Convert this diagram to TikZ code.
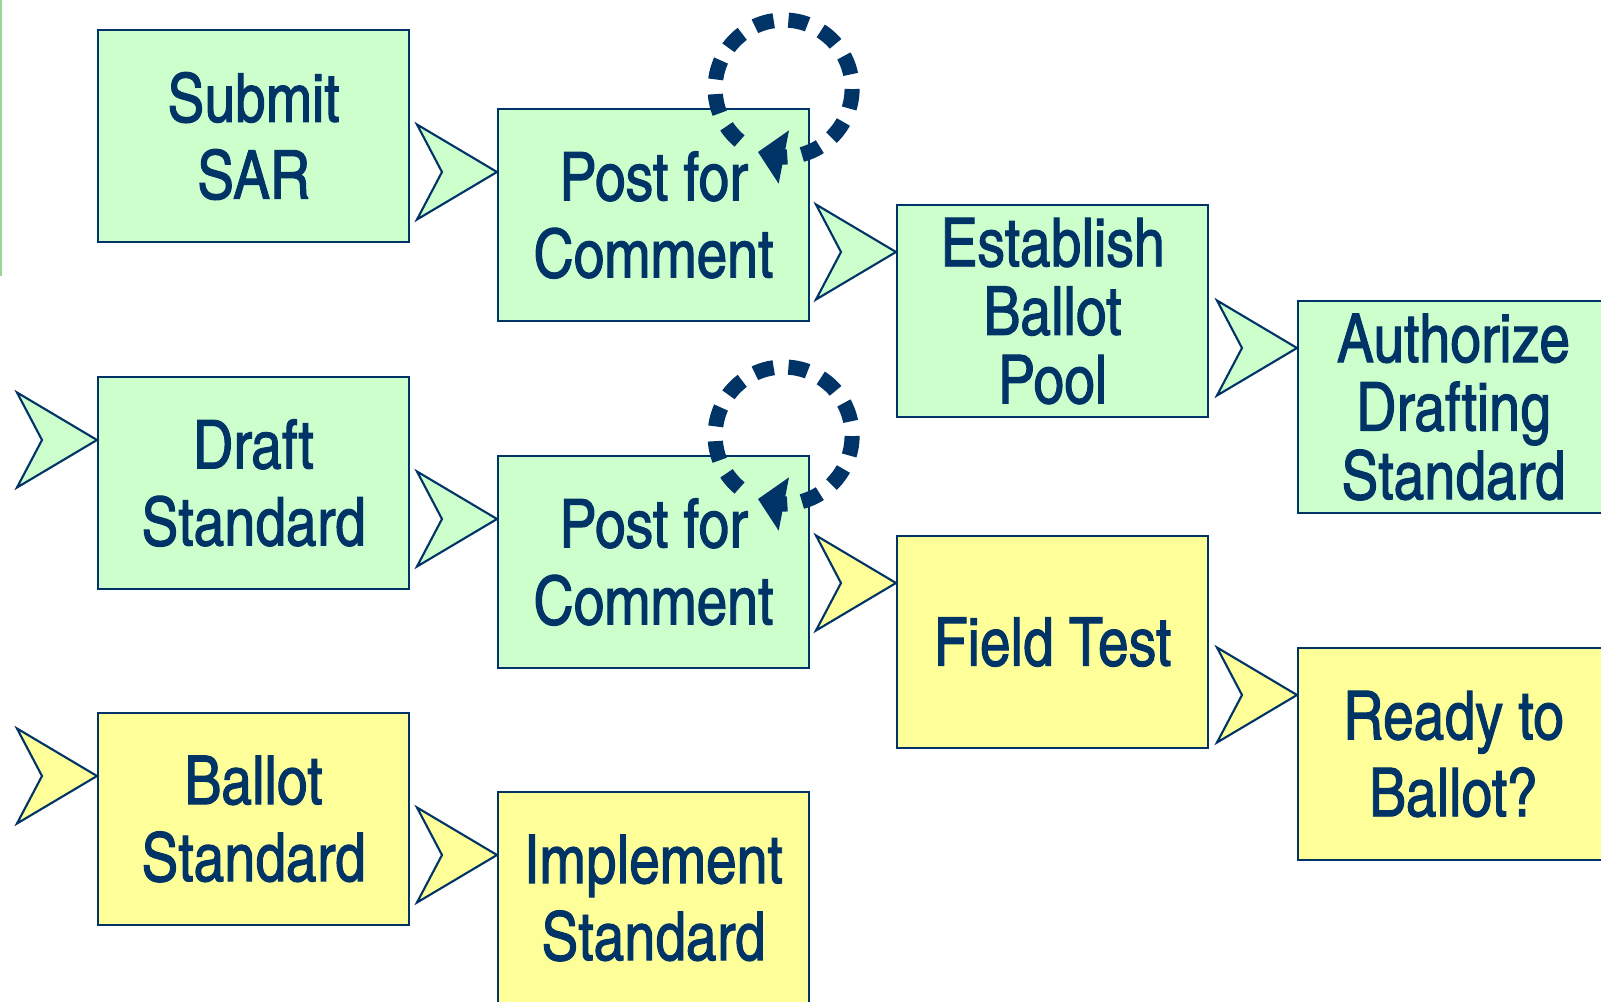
\documentclass[tikz,border=0pt]{standalone}
\usepackage{fontspec}
\setmainfont{texgyreheroscn}[Extension=.otf, UprightFont=*-regular, BoldFont=*-bold, ItalicFont=*-italic, BoldItalicFont=*-bolditalic, FakeBold=1.4]
\usetikzlibrary{arrows.meta,bending}

\definecolor{navy}{RGB}{0,51,102}
\definecolor{mint}{RGB}{204,255,204}
\definecolor{butter}{RGB}{255,255,153}
\definecolor{edgegreen}{RGB}{153,214,153}

\tikzset{
  box/.style={draw=navy, line width=0.6pt, text=navy, anchor=north west,
    minimum width=3.11cm, minimum height=2.12cm, inner sep=0pt, align=center,
    font=\fontsize{19.2}{21.9}\selectfont},
  three/.style={font=\fontsize{19.2}{19.5}\selectfont},
  chev/.style={draw=navy, line width=0.6pt, line join=miter},
  recycle/.style={navy, line width=4.3pt, dash pattern=on 5.6pt off 4.2pt,
    -{Triangle[length=7.5pt, width=15pt, flex]}},
}

\begin{document}
\begin{tikzpicture}
\useasboundingbox (0,0) rectangle (16.01,-10.02);

\draw[edgegreen, line width=0.5pt] (0.01,0) -- (0.01,-2.76);

% top row
\node[box, fill=mint] (submit) at (0.97,-0.29) {Submit\\SAR};
\node[box, fill=mint] (post1) at (4.97,-1.08) {Post for\\Comment};
\node[box, three, fill=mint] (pool) at (8.96,-2.04) {Establish\\Ballot\\Pool};
\node[box, three, fill=mint] (authorize) at (12.97,-3.00) {Authorize\\Drafting\\Standard};

% middle row
\node[box, fill=mint] (draft) at (0.97,-3.76) {Draft\\Standard};
\node[box, fill=mint] (post2) at (4.97,-4.55) {Post for\\Comment};
\node[box, fill=butter] (field) at (8.96,-5.35) {Field Test};
\node[box, fill=butter] (ready) at (12.97,-6.47) {Ready to\\Ballot?};

% bottom row
\node[box, fill=butter] (ballot) at (0.97,-7.12) {Ballot\\Standard};
\node[box, fill=butter] (implement) at (4.97,-7.91) {Implement\\Standard};

% chevrons into each step
\draw[chev, fill=mint] ([yshift=-0.64cm]post1.north west) -- ++(-0.8,0.475) -- ++(0.25,-0.475) -- ++(-0.25,-0.475) -- cycle;
\draw[chev, fill=mint] ([yshift=-0.48cm]pool.north west) -- ++(-0.8,0.475) -- ++(0.25,-0.475) -- ++(-0.25,-0.475) -- cycle;
\draw[chev, fill=mint] ([yshift=-0.48cm]authorize.north west) -- ++(-0.8,0.475) -- ++(0.25,-0.475) -- ++(-0.25,-0.475) -- cycle;
\draw[chev, fill=mint] ([yshift=-0.64cm]draft.north west) -- ++(-0.8,0.475) -- ++(0.25,-0.475) -- ++(-0.25,-0.475) -- cycle;
\draw[chev, fill=mint] ([yshift=-0.64cm]post2.north west) -- ++(-0.8,0.475) -- ++(0.25,-0.475) -- ++(-0.25,-0.475) -- cycle;
\draw[chev, fill=butter] ([yshift=-0.48cm]field.north west) -- ++(-0.8,0.475) -- ++(0.25,-0.475) -- ++(-0.25,-0.475) -- cycle;
\draw[chev, fill=butter] ([yshift=-0.48cm]ready.north west) -- ++(-0.8,0.475) -- ++(0.25,-0.475) -- ++(-0.25,-0.475) -- cycle;
\draw[chev, fill=butter] ([yshift=-0.64cm]ballot.north west) -- ++(-0.8,0.475) -- ++(0.25,-0.475) -- ++(-0.25,-0.475) -- cycle;
\draw[chev, fill=butter] ([yshift=-0.64cm]implement.north west) -- ++(-0.8,0.475) -- ++(0.25,-0.475) -- ++(-0.25,-0.475) -- cycle;

% comment loops over the two review steps
\coordinate (hub1) at ([shift={(-0.265,0.195)}]post1.north east);
\coordinate (hub2) at ([shift={(-0.265,0.195)}]post2.north east);
\draw[recycle] ([shift={(230:0.685)}]hub1) arc[start angle=230, end angle=-112, radius=0.685];
\draw[recycle] ([shift={(230:0.685)}]hub2) arc[start angle=230, end angle=-112, radius=0.685];

\end{tikzpicture}
\end{document}
